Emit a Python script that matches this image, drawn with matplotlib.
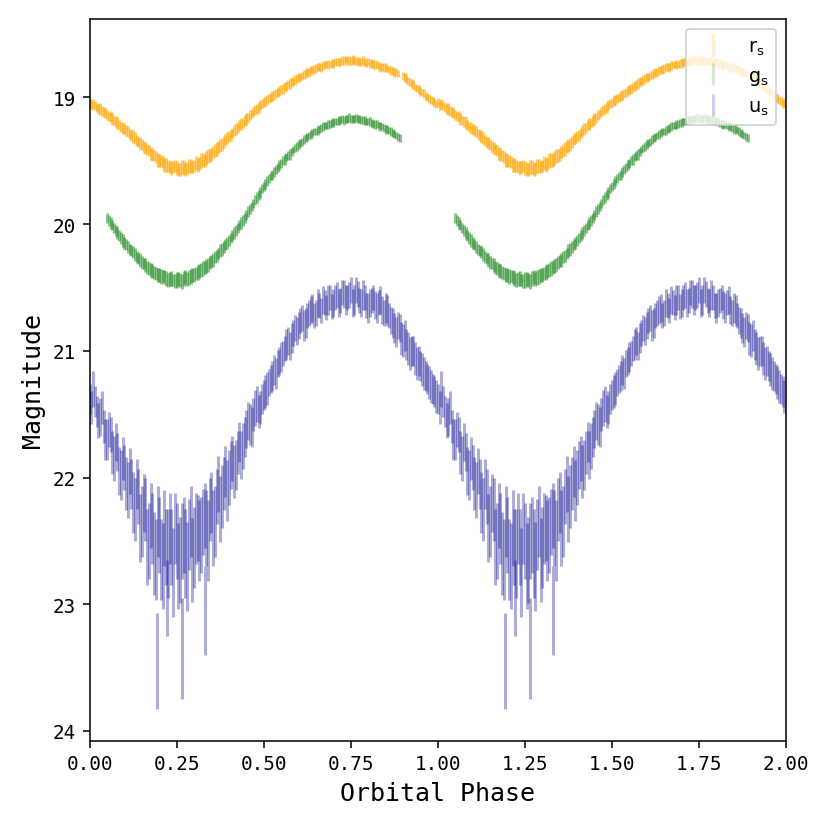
import numpy as np
import matplotlib
matplotlib.use('Agg')
import matplotlib.pyplot as plt
from matplotlib.lines import Line2D
from matplotlib.ticker import FormatStrFormatter

plt.rcParams['font.family'] = 'DejaVu Sans Mono'

# r band (gap near phase 0.89), read at whole hundredths ...
r_phase = [0.00, 0.01, 0.02, 0.03, 0.04, 0.05, 0.06, 0.07, 0.08, 0.09,
           0.10, 0.11, 0.12, 0.13, 0.14, 0.15, 0.16, 0.17, 0.18, 0.19,
           0.20, 0.21, 0.22, 0.23, 0.24, 0.25, 0.26, 0.27, 0.28, 0.29,
           0.30, 0.31, 0.32, 0.33, 0.34, 0.35, 0.36, 0.37, 0.38, 0.39,
           0.40, 0.41, 0.42, 0.43, 0.44, 0.45, 0.46, 0.47, 0.48, 0.49,
           0.50, 0.51, 0.52, 0.53, 0.54, 0.55, 0.56, 0.57, 0.58, 0.59,
           0.60, 0.61, 0.62, 0.63, 0.64, 0.65, 0.66, 0.67, 0.68, 0.69,
           0.70, 0.71, 0.72, 0.73, 0.74, 0.75, 0.76, 0.77, 0.78, 0.79,
           0.80, 0.81, 0.82, 0.83, 0.84, 0.85, 0.86, 0.87, 0.88,
           0.90, 0.91, 0.92, 0.93, 0.94, 0.95, 0.96, 0.97, 0.98, 0.99]
r_mag = [19.04, 19.05, 19.08, 19.09, 19.12, 19.14, 19.15, 19.18, 19.20, 19.23,
         19.25, 19.27, 19.30, 19.32, 19.35, 19.37, 19.40, 19.42, 19.45, 19.47,
         19.50, 19.51, 19.53, 19.55, 19.55, 19.56, 19.57, 19.55, 19.56, 19.54,
         19.54, 19.53, 19.50, 19.50, 19.46, 19.45, 19.42, 19.39, 19.37, 19.33,
         19.31, 19.28, 19.25, 19.22, 19.20, 19.17, 19.14, 19.11, 19.09, 19.06,
         19.04, 19.02, 19.00, 18.98, 18.96, 18.94, 18.92, 18.90, 18.88, 18.86,
         18.84, 18.83, 18.81, 18.80, 18.78, 18.77, 18.76, 18.75, 18.74, 18.74,
         18.73, 18.72, 18.72, 18.71, 18.71, 18.71, 18.71, 18.71, 18.72, 18.72,
         18.72, 18.73, 18.74, 18.75, 18.76, 18.76, 18.78, 18.79, 18.80,
         18.83, 18.85, 18.88, 18.90, 18.93, 18.95, 18.97, 19.00, 19.02, 19.04]
r_err = [0.035, 0.040, 0.035, 0.045, 0.035, 0.040, 0.040, 0.035, 0.045, 0.040,
         0.040, 0.045, 0.040, 0.045, 0.040, 0.045, 0.050, 0.045, 0.050, 0.045,
         0.050, 0.045, 0.055, 0.050, 0.045, 0.055, 0.050, 0.055, 0.050, 0.055,
         0.050, 0.055, 0.060, 0.050, 0.055, 0.050, 0.050, 0.045, 0.050, 0.045,
         0.045, 0.040, 0.045, 0.040, 0.040, 0.045, 0.040, 0.035, 0.040, 0.040,
         0.035, 0.040, 0.035, 0.040, 0.035, 0.035, 0.040, 0.035, 0.035, 0.040,
         0.035, 0.030, 0.035, 0.035, 0.030, 0.035, 0.030, 0.035, 0.030, 0.030,
         0.035, 0.030, 0.030, 0.035, 0.030, 0.030, 0.035, 0.030, 0.030, 0.035,
         0.030, 0.030, 0.035, 0.030, 0.030, 0.035, 0.030, 0.030, 0.030,
         0.030, 0.035, 0.030, 0.035, 0.030, 0.035, 0.035, 0.030, 0.035, 0.035]
# ... and in between
r_phase_b = [0.005, 0.015, 0.025, 0.035, 0.045, 0.055, 0.065, 0.075, 0.085, 0.095,
             0.105, 0.115, 0.125, 0.135, 0.145, 0.155, 0.165, 0.175, 0.185, 0.195,
             0.205, 0.215, 0.225, 0.235, 0.245, 0.255, 0.265, 0.275, 0.285, 0.295,
             0.305, 0.315, 0.325, 0.335, 0.345, 0.355, 0.365, 0.375, 0.385, 0.395,
             0.405, 0.415, 0.425, 0.435, 0.445, 0.455, 0.465, 0.475, 0.485, 0.495,
             0.505, 0.515, 0.525, 0.535, 0.545, 0.555, 0.565, 0.575, 0.585, 0.595,
             0.605, 0.615, 0.625, 0.635, 0.645, 0.655, 0.665, 0.675, 0.685, 0.695,
             0.705, 0.715, 0.725, 0.735, 0.745, 0.755, 0.765, 0.775, 0.785, 0.795,
             0.805, 0.815, 0.825, 0.835, 0.845, 0.855, 0.865, 0.875, 0.885,
             0.905, 0.915, 0.925, 0.935, 0.945, 0.955, 0.965, 0.975, 0.985, 0.995]
r_mag_b = [19.06, 19.06, 19.09, 19.11, 19.12, 19.15, 19.17, 19.19, 19.22, 19.24,
           19.26, 19.29, 19.31, 19.34, 19.36, 19.39, 19.41, 19.44, 19.46, 19.49,
           19.50, 19.53, 19.54, 19.56, 19.54, 19.57, 19.55, 19.57, 19.54, 19.55,
           19.52, 19.52, 19.49, 19.48, 19.46, 19.43, 19.41, 19.38, 19.35, 19.32,
           19.30, 19.26, 19.24, 19.21, 19.18, 19.16, 19.13, 19.10, 19.08, 19.05,
           19.03, 19.01, 18.99, 18.97, 18.95, 18.93, 18.91, 18.89, 18.87, 18.85,
           18.84, 18.82, 18.80, 18.79, 18.78, 18.76, 18.76, 18.74, 18.74, 18.73,
           18.72, 18.72, 18.71, 18.70, 18.71, 18.70, 18.71, 18.72, 18.71, 18.73,
           18.73, 18.74, 18.74, 18.76, 18.76, 18.77, 18.79, 18.80, 18.81,
           18.84, 18.87, 18.89, 18.92, 18.94, 18.96, 18.99, 19.01, 19.03, 19.05]
r_err_b = [0.040, 0.035, 0.040, 0.040, 0.045, 0.035, 0.045, 0.040, 0.040, 0.045,
           0.045, 0.040, 0.050, 0.040, 0.050, 0.045, 0.045, 0.050, 0.045, 0.055,
           0.045, 0.055, 0.050, 0.055, 0.050, 0.050, 0.060, 0.050, 0.055, 0.050,
           0.055, 0.050, 0.055, 0.055, 0.050, 0.045, 0.055, 0.050, 0.045, 0.050,
           0.040, 0.045, 0.040, 0.045, 0.045, 0.040, 0.035, 0.040, 0.045, 0.035,
           0.040, 0.035, 0.040, 0.035, 0.040, 0.040, 0.035, 0.040, 0.035, 0.035,
           0.030, 0.035, 0.030, 0.035, 0.035, 0.030, 0.035, 0.030, 0.035, 0.035,
           0.030, 0.035, 0.035, 0.030, 0.035, 0.035, 0.030, 0.035, 0.035, 0.030,
           0.035, 0.035, 0.030, 0.035, 0.035, 0.030, 0.035, 0.035, 0.030,
           0.035, 0.030, 0.035, 0.030, 0.035, 0.030, 0.030, 0.035, 0.030, 0.030]

# g band (phase 0.05 - 0.89)
g_phase = [0.05, 0.06, 0.07, 0.08, 0.09,
           0.10, 0.11, 0.12, 0.13, 0.14, 0.15, 0.16, 0.17, 0.18, 0.19,
           0.20, 0.21, 0.22, 0.23, 0.24, 0.25, 0.26, 0.27, 0.28, 0.29,
           0.30, 0.31, 0.32, 0.33, 0.34, 0.35, 0.36, 0.37, 0.38, 0.39,
           0.40, 0.41, 0.42, 0.43, 0.44, 0.45, 0.46, 0.47, 0.48, 0.49,
           0.50, 0.51, 0.52, 0.53, 0.54, 0.55, 0.56, 0.57, 0.58, 0.59,
           0.60, 0.61, 0.62, 0.63, 0.64, 0.65, 0.66, 0.67, 0.68, 0.69,
           0.70, 0.71, 0.72, 0.73, 0.74, 0.75, 0.76, 0.77, 0.78, 0.79,
           0.80, 0.81, 0.82, 0.83, 0.84, 0.85, 0.86, 0.87, 0.88, 0.89]
g_mag = [19.95, 19.99, 20.03, 20.07, 20.11,
         20.15, 20.18, 20.21, 20.24, 20.27, 20.30, 20.32, 20.35, 20.37, 20.39,
         20.40, 20.41, 20.43, 20.43, 20.44, 20.44, 20.44, 20.43, 20.43, 20.41,
         20.40, 20.38, 20.36, 20.34, 20.32, 20.29, 20.26, 20.23, 20.20, 20.16,
         20.13, 20.09, 20.05, 20.01, 19.97, 19.93, 19.88, 19.84, 19.79, 19.75,
         19.70, 19.66, 19.62, 19.59, 19.55, 19.52, 19.49, 19.46, 19.43, 19.40,
         19.37, 19.35, 19.32, 19.30, 19.28, 19.27, 19.25, 19.23, 19.22, 19.21,
         19.20, 19.19, 19.18, 19.18, 19.17, 19.17, 19.17, 19.17, 19.18, 19.18,
         19.19, 19.20, 19.21, 19.22, 19.23, 19.25, 19.26, 19.28, 19.30, 19.32]
g_err = [0.040, 0.045, 0.040, 0.045, 0.045,
         0.045, 0.050, 0.045, 0.050, 0.045, 0.050, 0.055, 0.050, 0.055, 0.050,
         0.055, 0.050, 0.060, 0.055, 0.050, 0.060, 0.055, 0.060, 0.055, 0.060,
         0.055, 0.060, 0.055, 0.050, 0.055, 0.050, 0.050, 0.045, 0.050, 0.045,
         0.045, 0.040, 0.045, 0.040, 0.045, 0.040, 0.040, 0.035, 0.040, 0.040,
         0.035, 0.040, 0.035, 0.040, 0.035, 0.035, 0.040, 0.035, 0.035, 0.030,
         0.035, 0.030, 0.035, 0.030, 0.035, 0.030, 0.030, 0.035, 0.030, 0.030,
         0.035, 0.030, 0.030, 0.035, 0.030, 0.030, 0.035, 0.030, 0.030, 0.035,
         0.030, 0.030, 0.035, 0.030, 0.030, 0.035, 0.030, 0.030, 0.030, 0.030]
g_phase_b = [0.055, 0.065, 0.075, 0.085, 0.095,
             0.105, 0.115, 0.125, 0.135, 0.145, 0.155, 0.165, 0.175, 0.185, 0.195,
             0.205, 0.215, 0.225, 0.235, 0.245, 0.255, 0.265, 0.275, 0.285, 0.295,
             0.305, 0.315, 0.325, 0.335, 0.345, 0.355, 0.365, 0.375, 0.385, 0.395,
             0.405, 0.415, 0.425, 0.435, 0.445, 0.455, 0.465, 0.475, 0.485, 0.495,
             0.505, 0.515, 0.525, 0.535, 0.545, 0.555, 0.565, 0.575, 0.585, 0.595,
             0.605, 0.615, 0.625, 0.635, 0.645, 0.655, 0.665, 0.675, 0.685, 0.695,
             0.705, 0.715, 0.725, 0.735, 0.745, 0.755, 0.765, 0.775, 0.785, 0.795,
             0.805, 0.815, 0.825, 0.835, 0.845, 0.855, 0.865, 0.875, 0.885]
g_mag_b = [19.97, 20.01, 20.05, 20.09, 20.13,
           20.16, 20.20, 20.22, 20.26, 20.28, 20.31, 20.34, 20.36, 20.38, 20.40,
           20.41, 20.42, 20.44, 20.43, 20.45, 20.43, 20.45, 20.42, 20.42, 20.40,
           20.39, 20.37, 20.35, 20.33, 20.30, 20.28, 20.25, 20.21, 20.18, 20.15,
           20.11, 20.07, 20.03, 19.99, 19.95, 19.90, 19.86, 19.81, 19.77, 19.72,
           19.68, 19.64, 19.61, 19.57, 19.53, 19.50, 19.47, 19.45, 19.41, 19.39,
           19.36, 19.33, 19.31, 19.29, 19.27, 19.26, 19.24, 19.22, 19.21, 19.20,
           19.19, 19.18, 19.17, 19.17, 19.16, 19.17, 19.16, 19.17, 19.18, 19.19,
           19.19, 19.21, 19.21, 19.23, 19.24, 19.25, 19.27, 19.29, 19.31]
g_err_b = [0.045, 0.040, 0.045, 0.040, 0.050,
           0.045, 0.045, 0.050, 0.050, 0.055, 0.045, 0.050, 0.055, 0.050, 0.055,
           0.060, 0.055, 0.055, 0.060, 0.055, 0.055, 0.060, 0.055, 0.060, 0.055,
           0.050, 0.055, 0.060, 0.055, 0.050, 0.055, 0.045, 0.050, 0.045, 0.050,
           0.040, 0.045, 0.040, 0.045, 0.040, 0.045, 0.035, 0.040, 0.040, 0.035,
           0.040, 0.035, 0.040, 0.035, 0.040, 0.035, 0.035, 0.040, 0.030, 0.035,
           0.030, 0.035, 0.030, 0.035, 0.030, 0.035, 0.030, 0.030, 0.035, 0.030,
           0.030, 0.035, 0.030, 0.030, 0.035, 0.030, 0.030, 0.035, 0.030, 0.030,
           0.035, 0.030, 0.030, 0.035, 0.030, 0.030, 0.035, 0.030, 0.030]

# u band, last four are the faint outliers near minimum
u_phase = [0.00, 0.01, 0.02, 0.03, 0.04, 0.05, 0.06, 0.07, 0.08, 0.09,
           0.10, 0.11, 0.12, 0.13, 0.14, 0.15, 0.16, 0.17, 0.18, 0.19,
           0.20, 0.21, 0.22, 0.23, 0.24, 0.25, 0.26, 0.27, 0.28, 0.29,
           0.30, 0.31, 0.32, 0.33, 0.34, 0.35, 0.36, 0.37, 0.38, 0.39,
           0.40, 0.41, 0.42, 0.43, 0.44, 0.45, 0.46, 0.47, 0.48, 0.49,
           0.50, 0.51, 0.52, 0.53, 0.54, 0.55, 0.56, 0.57, 0.58, 0.59,
           0.60, 0.61, 0.62, 0.63, 0.64, 0.65, 0.66, 0.67, 0.68, 0.69,
           0.70, 0.71, 0.72, 0.73, 0.74, 0.75, 0.76, 0.77, 0.78, 0.79,
           0.80, 0.81, 0.82, 0.83, 0.84, 0.85, 0.86, 0.87, 0.88, 0.89,
           0.90, 0.91, 0.92, 0.93, 0.94, 0.95, 0.96, 0.97, 0.98, 0.99,
           0.193, 0.264, 0.330, 0.222]
u_mag = [21.38, 21.30, 21.48, 21.52, 21.60, 21.70, 21.66, 21.85, 21.80, 21.98,
         21.92, 22.10, 22.05, 22.25, 22.15, 22.35, 22.25, 22.50, 22.40, 22.65,
         22.45, 22.70, 22.55, 22.40, 22.75, 22.50, 22.65, 22.45, 22.70, 22.35,
         22.55, 22.40, 22.45, 22.30, 22.50, 22.20, 22.35, 22.05, 22.15, 21.95,
         22.00, 21.85, 21.90, 21.72, 21.75, 21.62, 21.58, 21.50, 21.42, 21.45,
         21.35, 21.30, 21.22, 21.15, 21.10, 21.05, 20.98, 20.92, 20.90, 20.82,
         20.80, 20.74, 20.78, 20.70, 20.66, 20.70, 20.64, 20.60, 20.66, 20.58,
         20.62, 20.56, 20.60, 20.55, 20.58, 20.52, 20.60, 20.55, 20.62, 20.58,
         20.66, 20.60, 20.64, 20.62, 20.68, 20.66, 20.72, 20.78, 20.85, 20.82,
         20.92, 20.95, 21.02, 21.00, 21.10, 21.12, 21.18, 21.22, 21.28, 21.32,
         23.45, 23.35, 23.05, 22.95]
u_err = [0.12, 0.14, 0.12, 0.15, 0.13, 0.16, 0.14, 0.18, 0.15, 0.20,
         0.18, 0.22, 0.20, 0.25, 0.22, 0.28, 0.25, 0.30, 0.28, 0.32,
         0.30, 0.34, 0.30, 0.28, 0.35, 0.30, 0.34, 0.30, 0.35, 0.28,
         0.32, 0.26, 0.30, 0.26, 0.32, 0.24, 0.28, 0.22, 0.25, 0.20,
         0.22, 0.18, 0.20, 0.16, 0.18, 0.15, 0.16, 0.13, 0.14, 0.13,
         0.12, 0.13, 0.11, 0.12, 0.11, 0.12, 0.10, 0.11, 0.12, 0.10,
         0.11, 0.10, 0.12, 0.10, 0.11, 0.10, 0.10, 0.11, 0.10, 0.10,
         0.11, 0.10, 0.10, 0.11, 0.10, 0.10, 0.12, 0.10, 0.11, 0.10,
         0.12, 0.10, 0.11, 0.10, 0.11, 0.12, 0.10, 0.12, 0.12, 0.11,
         0.13, 0.12, 0.13, 0.12, 0.13, 0.12, 0.13, 0.12, 0.13, 0.12,
         0.38, 0.40, 0.35, 0.30]
u_phase_b = [0.005, 0.015, 0.025, 0.035, 0.045, 0.055, 0.065, 0.075, 0.085, 0.095,
             0.105, 0.115, 0.125, 0.135, 0.145, 0.155, 0.165, 0.175, 0.185, 0.195,
             0.205, 0.215, 0.225, 0.235, 0.245, 0.255, 0.265, 0.275, 0.285, 0.295,
             0.305, 0.315, 0.325, 0.335, 0.345, 0.355, 0.365, 0.375, 0.385, 0.395,
             0.405, 0.415, 0.425, 0.435, 0.445, 0.455, 0.465, 0.475, 0.485, 0.495,
             0.505, 0.515, 0.525, 0.535, 0.545, 0.555, 0.565, 0.575, 0.585, 0.595,
             0.605, 0.615, 0.625, 0.635, 0.645, 0.655, 0.665, 0.675, 0.685, 0.695,
             0.705, 0.715, 0.725, 0.735, 0.745, 0.755, 0.765, 0.775, 0.785, 0.795,
             0.805, 0.815, 0.825, 0.835, 0.845, 0.855, 0.865, 0.875, 0.885, 0.895,
             0.905, 0.915, 0.925, 0.935, 0.945, 0.955, 0.965, 0.975, 0.985, 0.995]
u_mag_b = [21.45, 21.40, 21.55, 21.45, 21.70, 21.62, 21.80, 21.72, 21.95, 21.85,
           22.05, 21.95, 22.20, 22.05, 22.40, 22.20, 22.55, 22.30, 22.60, 22.35,
           22.65, 22.40, 22.60, 22.55, 22.40, 22.70, 22.50, 22.60, 22.45, 22.65,
           22.40, 22.50, 22.35, 22.40, 22.25, 22.40, 22.15, 22.25, 22.05, 22.10,
           21.90, 21.95, 21.80, 21.82, 21.68, 21.55, 21.60, 21.45, 21.48, 21.38,
           21.32, 21.25, 21.20, 21.18, 21.08, 21.02, 20.95, 20.96, 20.86, 20.84,
           20.76, 20.80, 20.72, 20.68, 20.72, 20.62, 20.68, 20.62, 20.60, 20.65,
           20.58, 20.62, 20.54, 20.60, 20.56, 20.62, 20.52, 20.60, 20.56, 20.64,
           20.62, 20.58, 20.66, 20.60, 20.70, 20.68, 20.76, 20.82, 20.80, 20.90,
           20.88, 20.98, 21.00, 21.06, 21.08, 21.15, 21.20, 21.25, 21.30, 21.36]
u_err_b = [0.13, 0.12, 0.14, 0.13, 0.16, 0.14, 0.17, 0.15, 0.19, 0.17,
           0.21, 0.18, 0.24, 0.20, 0.27, 0.23, 0.30, 0.26, 0.33, 0.28,
           0.32, 0.30, 0.35, 0.30, 0.28, 0.34, 0.30, 0.35, 0.28, 0.33,
           0.28, 0.32, 0.26, 0.30, 0.25, 0.30, 0.22, 0.26, 0.21, 0.24,
           0.19, 0.21, 0.17, 0.19, 0.16, 0.15, 0.16, 0.14, 0.13, 0.12,
           0.13, 0.11, 0.12, 0.12, 0.11, 0.10, 0.12, 0.11, 0.10, 0.11,
           0.10, 0.12, 0.10, 0.11, 0.10, 0.11, 0.10, 0.10, 0.12, 0.10,
           0.10, 0.11, 0.10, 0.12, 0.10, 0.11, 0.10, 0.10, 0.12, 0.10,
           0.11, 0.10, 0.12, 0.11, 0.10, 0.12, 0.11, 0.12, 0.11, 0.13,
           0.12, 0.13, 0.12, 0.13, 0.12, 0.13, 0.12, 0.13, 0.12, 0.13]

bands = [
    (r_phase + r_phase_b, r_mag + r_mag_b, r_err + r_err_b, 'orange', 0.55, r'$\mathrm{r_s}$'),
    (g_phase + g_phase_b, g_mag + g_mag_b, g_err + g_err_b, 'forestgreen', 0.5, r'$\mathrm{g_s}$'),
    (u_phase + u_phase_b, u_mag + u_mag_b, u_err + u_err_b, 'darkblue', 0.32, r'$\mathrm{u_s}$'),
]

fig, ax = plt.subplots(figsize=(6, 6), dpi=138.33)
fig.subplots_adjust(left=0.108, right=0.947, bottom=0.106, top=0.976)

handles = []
for phase, mag, err, color, alpha, label in bands:
    phase = np.array(phase)
    # plot two cycles
    for shift in (0, 1):
        ax.errorbar(phase + shift, mag, yerr=err, fmt='none', ecolor=color,
                    elinewidth=1.6, alpha=alpha)
    handles.append(Line2D([], [], color=color, marker='|', linestyle='none',
                          markersize=11, markeredgewidth=1.5, alpha=0.2,
                          label=label))

ax.set_xlim(0, 2)
ax.set_ylim(24.08, 18.38)
ax.set_xticks([0, 0.25, 0.5, 0.75, 1.0, 1.25, 1.5, 1.75, 2.0])
ax.xaxis.set_major_formatter(FormatStrFormatter('%.2f'))
ax.set_yticks([19, 20, 21, 22, 23, 24])
ax.set_xlabel('Orbital Phase', fontsize=13)
ax.set_ylabel('Magnitude', fontsize=13)
ax.legend(handles=handles, loc='upper right')

fig.savefig('out.png', dpi=138.33)
